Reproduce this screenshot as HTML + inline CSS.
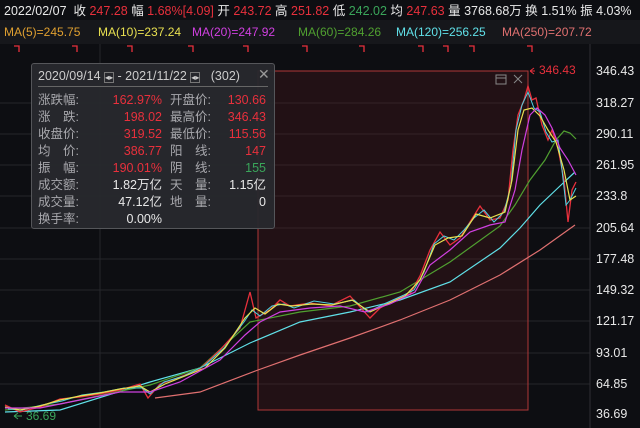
<!DOCTYPE html>
<html><head><meta charset="utf-8"><style>
body{margin:0;width:640px;height:428px;background:#0d0e12;overflow:hidden;font-family:"Liberation Sans","Noto Sans CJK SC",sans-serif;position:relative}
.t{position:absolute;white-space:nowrap;font-size:12px;line-height:14px}
.r{color:#e8303c}.g{color:#3aa55a}.w{color:#e8e8e8}
#box{position:absolute;left:31px;top:63px;width:242px;height:164px;background:rgba(40,41,46,0.96);border:1px solid #55565a;border-radius:3px}
#box .t{font-size:12.5px;line-height:14px}
.lb{color:#a8a8ad}
</style></head><body>
<div class="t w" style="left:4px;top:4px;font-size:12.5px">2022/02/07&nbsp; 收 <span class="r">247.28</span> 幅 <span class="r">1.68%[4.09]</span> 开 <span class="r">243.72</span> 高 <span class="r">251.82</span> 低 <span class="g">242.02</span> 均 <span class="r">247.63</span> 量 3768.68万 换 1.51% 振 4.03%</div>
<div style="position:absolute;left:0;top:20px;width:640px;height:24px;background:#16171b"></div>
<div class="t" style="left:4px;top:25px;color:#e0a030">MA(5)=245.75</div>
<div class="t" style="left:98px;top:25px;color:#e8e050">MA(10)=237.24</div>
<div class="t" style="left:192px;top:25px;color:#d040e0">MA(20)=247.92</div>
<div class="t" style="left:298px;top:25px;color:#50a030">MA(60)=284.26</div>
<div class="t" style="left:396px;top:25px;color:#60e0e8">MA(120)=256.25</div>
<div class="t" style="left:502px;top:25px;color:#e07070">MA(250)=207.72</div>
<svg style="position:absolute;left:0;top:0" width="640" height="428">
<g stroke="#25262b" stroke-width="1">
<line x1="0" y1="103" x2="590" y2="103"/><line x1="0" y1="134" x2="590" y2="134"/><line x1="0" y1="165" x2="590" y2="165"/><line x1="0" y1="196" x2="590" y2="196"/><line x1="0" y1="228" x2="590" y2="228"/><line x1="0" y1="259" x2="590" y2="259"/><line x1="0" y1="290" x2="590" y2="290"/><line x1="0" y1="321" x2="590" y2="321"/><line x1="0" y1="353" x2="590" y2="353"/><line x1="0" y1="384" x2="590" y2="384"/>
<line x1="100" y1="44" x2="100" y2="428"/><line x1="590" y1="44" x2="590" y2="428" stroke="#2e2f34"/>
</g>
<g stroke="#e8303c" stroke-width="1.3" fill="none">
<path d="M14 46h5v6M72 46h5v6M127 46h5v6M188 46h5v6M243 46h5v6M302 46h5v6M359 46h5v6M418 46h5v6M443 46h5v6M469 46h5v6M527 46h5v6"/>
</g>
<rect x="258" y="71" width="270" height="339" fill="rgba(110,30,30,0.22)" stroke="#b03838" stroke-width="1"/>
<g fill="none" stroke="#888" stroke-width="1"><rect x="496" y="75" width="10" height="9"/><line x1="496" y1="78" x2="506" y2="78"/><path d="M514 75l8 8M522 75l-8 8"/></g>
<path d="M530 71h5M530 71l4-3M530 71l4 3" stroke="#e8303c" fill="none"/>
<text x="539" y="74" fill="#e8303c" font-size="12" font-family="Liberation Sans">346.43</text>
<path d="M14 416h8M14 416l4-3M14 416l4 3" stroke="#3aa55a" fill="none"/>
<text x="26" y="420" fill="#3aa55a" font-size="12" font-family="Liberation Sans">36.69</text>
<polyline fill="none" stroke="#e07070" stroke-width="1.2" points="155,398 200,392 258,370 300,355 350,338 400,320 450,300 500,275 540,250 575,225"/>
<polyline fill="none" stroke="#60e0e8" stroke-width="1.2" points="5,412 60,410 150,382 200,368 250,343 300,322 350,312 400,300 450,282 500,248 520,228 540,205 560,186 575,172"/>
<polyline fill="none" stroke="#50a030" stroke-width="1.2" points="5,410 60,404 150,385 200,368 250,322 300,312 350,306 400,292 450,262 500,226 515,205 530,180 545,160 556,140 564,131 570,133 576,139"/>
<polyline fill="none" stroke="#e8303c" stroke-width="1.3" points="5,405 20,412 40,407 60,399 80,397 100,394 120,390 140,384 148,398 160,384 180,377 200,369 220,350 240,328 250,292 256,318 270,310 280,300 290,306 310,303 330,306 350,296 370,318 380,308 400,297 410,294 420,276 430,250 440,232 450,245 460,238 470,222 480,206 490,220 500,218 508,200 513,150 518,115 524,100 528,86 532,100 536,98 542,125 548,140 552,130 558,148 564,180 568,222 572,190 576,182"/>
<polyline fill="none" stroke="#50d0e0" stroke-width="1" points="8,409 22,410 42,405 62,401 82,395 104,392 124,388 142,388 150,394 164,382 184,376 204,366 224,348 244,322 252,310 260,316 272,306 284,304 294,308 314,301 334,304 354,300 368,312 384,304 404,295 414,290 424,272 434,244 444,236 454,240 464,230 474,218 484,210 494,222 504,212 511,185 516,130 522,105 528,92 534,108 540,112 546,132 552,142 558,140 562,170 566,205 570,200 576,188"/>
<polyline fill="none" stroke="#e8e050" stroke-width="1.2" points="5,407 20,410 40,406 60,400 80,396 100,393 120,389 140,386 150,392 165,384 185,376 205,368 225,348 245,318 255,308 265,314 278,304 292,306 312,304 332,305 352,300 370,312 385,305 405,296 420,280 435,245 448,238 462,236 476,214 490,218 505,212 512,180 518,130 524,110 532,108 540,116 548,130 556,142 564,170 570,200 576,196"/>
<polyline fill="none" stroke="#d040e0" stroke-width="1.2" points="5,408 40,408 80,400 120,392 150,392 180,382 220,360 245,335 260,322 280,312 310,308 340,306 365,312 390,304 415,292 430,265 450,250 470,232 490,225 505,222 515,190 522,150 530,115 537,108 545,115 552,128 560,148 568,160 576,175"/>
</svg>
<div class="t w" style="left:596px;top:64px;font-size:12.5px">346.43</div>
<div class="t w" style="left:596px;top:96px;font-size:12.5px">318.27</div>
<div class="t w" style="left:596px;top:127px;font-size:12.5px">290.11</div>
<div class="t w" style="left:596px;top:158px;font-size:12.5px">261.95</div>
<div class="t w" style="left:596px;top:189px;font-size:12.5px">233.8</div>
<div class="t w" style="left:596px;top:221px;font-size:12.5px">205.64</div>
<div class="t w" style="left:596px;top:252px;font-size:12.5px">177.48</div>
<div class="t w" style="left:596px;top:283px;font-size:12.5px">149.32</div>
<div class="t w" style="left:596px;top:314px;font-size:12.5px">121.17</div>
<div class="t w" style="left:596px;top:346px;font-size:12.5px">93.01</div>
<div class="t w" style="left:596px;top:377px;font-size:12.5px">64.85</div>
<div class="t w" style="left:596px;top:407px;font-size:12.5px">36.69</div>
<div id="box">
<div class="t lb" style="left:6px;top:5px;color:#ccc">2020/09/14 <span style="border:1px solid #777;font-size:8px">◂▸</span> - 2021/11/22 <span style="border:1px solid #777;font-size:8px">◂▸</span> &nbsp;&nbsp;(302)</div>
<div class="t" style="left:226px;top:3px;color:#999;font-size:14px">✕</div>
<div style="position:absolute;left:6px;top:22px;width:230px;height:1px;background:#666"></div>
<div class="t lb" style="left:6px;top:29px">涨跌幅:</div><div class="t r" style="left:70px;top:29px;width:60px;text-align:right">162.97%</div>
<div class="t lb" style="left:138px;top:29px">开盘价:</div><div class="t r" style="left:180px;top:29px;width:54px;text-align:right">130.66</div>
<div class="t lb" style="left:6px;top:46px">涨　跌:</div><div class="t r" style="left:70px;top:46px;width:60px;text-align:right">198.02</div>
<div class="t lb" style="left:138px;top:46px">最高价:</div><div class="t r" style="left:180px;top:46px;width:54px;text-align:right">346.43</div>
<div class="t lb" style="left:6px;top:63px">收盘价:</div><div class="t r" style="left:70px;top:63px;width:60px;text-align:right">319.52</div>
<div class="t lb" style="left:138px;top:63px">最低价:</div><div class="t r" style="left:180px;top:63px;width:54px;text-align:right">115.56</div>
<div class="t lb" style="left:6px;top:80px">均　价:</div><div class="t r" style="left:70px;top:80px;width:60px;text-align:right">386.77</div>
<div class="t lb" style="left:138px;top:80px">阳　线:</div><div class="t r" style="left:180px;top:80px;width:54px;text-align:right">147</div>
<div class="t lb" style="left:6px;top:97px">振　幅:</div><div class="t r" style="left:70px;top:97px;width:60px;text-align:right">190.01%</div>
<div class="t lb" style="left:138px;top:97px">阴　线:</div><div class="t g" style="left:180px;top:97px;width:54px;text-align:right">155</div>
<div class="t lb" style="left:6px;top:114px">成交额:</div><div class="t w" style="left:70px;top:114px;width:60px;text-align:right">1.82万亿</div>
<div class="t lb" style="left:138px;top:114px">天　量:</div><div class="t w" style="left:180px;top:114px;width:54px;text-align:right">1.15亿</div>
<div class="t lb" style="left:6px;top:131px">成交量:</div><div class="t w" style="left:70px;top:131px;width:60px;text-align:right">47.12亿</div>
<div class="t lb" style="left:138px;top:131px">地　量:</div><div class="t w" style="left:180px;top:131px;width:54px;text-align:right">0</div>
<div class="t lb" style="left:6px;top:148px">换手率:</div><div class="t w" style="left:70px;top:148px;width:60px;text-align:right">0.00%</div>
</div>
</body></html>
